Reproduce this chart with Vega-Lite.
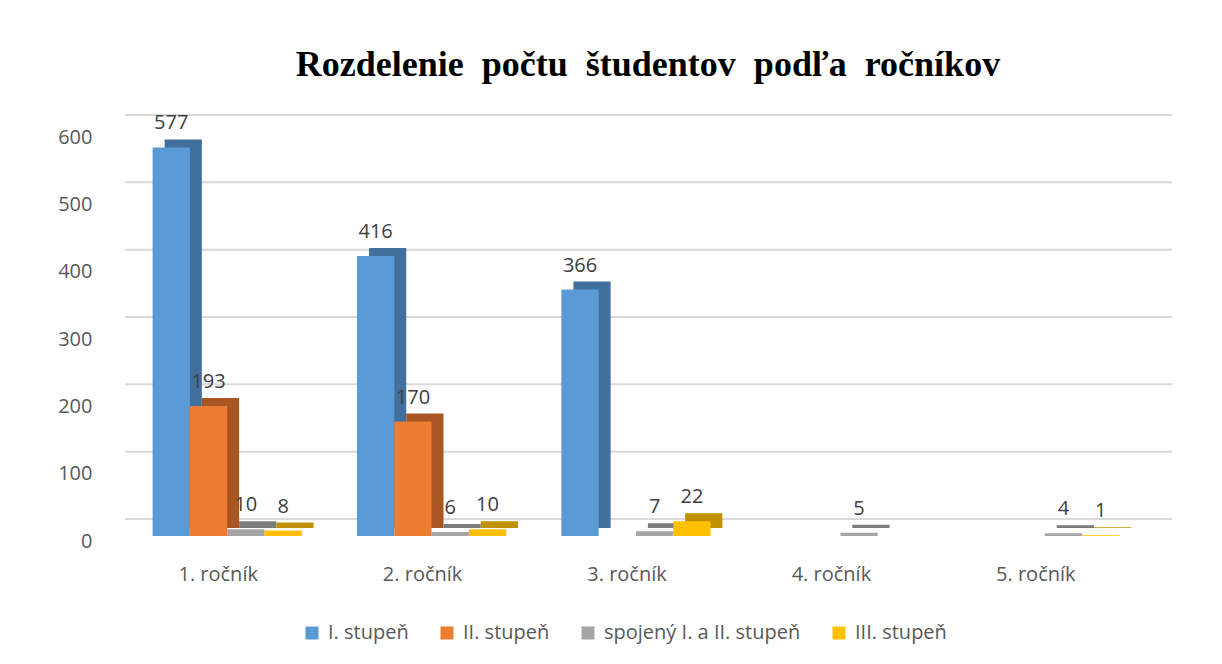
{
  "$schema": "https://vega.github.io/schema/vega-lite/v6.json",
  "autosize": "none",
  "width": 1022,
  "height": 404,
  "padding": {"left": 125, "top": 132, "right": 75, "bottom": 128},
  "background": "white",
  "title": {
    "text": "Rozdelenie\u00a0 počtu\u00a0 študentov\u00a0 podľa\u00a0 ročníkov",
    "font": "Liberation Serif",
    "fontSize": 36,
    "fontWeight": "bold",
    "color": "#000000",
    "anchor": "middle",
    "dx": 12,
    "offset": 29
  },
  "datasets": {
    "bars": [
      {"rocnik": "1. ročník", "stupen": "I. stupeň", "pocet": 577},
      {"rocnik": "1. ročník", "stupen": "II. stupeň", "pocet": 193},
      {"rocnik": "1. ročník", "stupen": "spojený I. a II. stupeň", "pocet": 10},
      {"rocnik": "1. ročník", "stupen": "III. stupeň", "pocet": 8},
      {"rocnik": "2. ročník", "stupen": "I. stupeň", "pocet": 416},
      {"rocnik": "2. ročník", "stupen": "II. stupeň", "pocet": 170},
      {"rocnik": "2. ročník", "stupen": "spojený I. a II. stupeň", "pocet": 6},
      {"rocnik": "2. ročník", "stupen": "III. stupeň", "pocet": 10},
      {"rocnik": "3. ročník", "stupen": "I. stupeň", "pocet": 366},
      {"rocnik": "3. ročník", "stupen": "spojený I. a II. stupeň", "pocet": 7},
      {"rocnik": "3. ročník", "stupen": "III. stupeň", "pocet": 22},
      {"rocnik": "4. ročník", "stupen": "spojený I. a II. stupeň", "pocet": 5},
      {"rocnik": "5. ročník", "stupen": "spojený I. a II. stupeň", "pocet": 4},
      {"rocnik": "5. ročník", "stupen": "III. stupeň", "pocet": 1}
    ],
    "grid": [
      {"v": 0}, {"v": 100}, {"v": 200}, {"v": 300}, {"v": 400}, {"v": 500}, {"v": 600}
    ]
  },
  "config": {
    "view": {"stroke": null},
    "font": "Open Sans"
  },
  "layer": [
    {
      "data": {"name": "grid"},
      "mark": {"type": "rule", "color": "#d9d9d9", "strokeWidth": 2, "xOffset": 25, "yOffset": -17},
      "encoding": {
        "y": {"field": "v", "type": "quantitative", "scale": {"domain": [0, 600]}}
      }
    },
    {
      "data": {"name": "bars"},
      "mark": {"type": "bar", "yOffset": -8},
      "encoding": {
        "x": {"field": "rocnik", "type": "nominal"},
        "xOffset": {
          "field": "stupen", "type": "nominal",
          "sort": ["I. stupeň", "II. stupeň", "spojený I. a II. stupeň", "III. stupeň"],
          "scale": {"range": [12, 161]}
        },
        "y": {"field": "pocet", "type": "quantitative"},
        "color": {
          "field": "stupen", "type": "nominal", "legend": null,
          "scale": {
            "domain": ["I. stupeň", "II. stupeň", "spojený I. a II. stupeň", "III. stupeň"],
            "range": ["#41709c", "#a95623", "#7c7c7c", "#bf9000"]
          }
        }
      }
    },
    {
      "data": {"name": "bars"},
      "layer": [
        {
          "mark": {"type": "bar"},
          "encoding": {
            "color": {
              "field": "stupen", "type": "nominal",
              "scale": {
                "domain": ["I. stupeň", "II. stupeň", "spojený I. a II. stupeň", "III. stupeň"],
                "range": ["#5b9bd5", "#ed7d31", "#a5a5a5", "#ffc000"]
              },
              "legend": {
                "title": null,
                "orient": "none",
                "legendX": 177,
                "legendY": 491,
                "direction": "horizontal",
                "symbolType": "square",
                "symbolSize": 169,
                "symbolStrokeWidth": 0,
                "symbolOffset": 0,
                "labelOffset": 6,
                "labelFontSize": 20,
                "labelColor": "#595959",
                "labelFont": "Open Sans",
                "labelLimit": 400,
                "columnPadding": 28
              }
            }
          }
        },
        {
          "mark": {"type": "text", "baseline": "bottom", "dy": -14, "fontSize": 20, "color": "#404040", "font": "Open Sans"},
          "encoding": {"text": {"field": "pocet", "type": "quantitative"}}
        }
      ],
      "encoding": {
        "x": {
          "field": "rocnik", "type": "nominal",
          "scale": {"paddingInner": 0.27, "paddingOuter": 0.135},
          "axis": {
            "title": null, "labelAngle": 0, "labelAlign": "center", "domain": false, "ticks": false,
            "labelFontSize": 20, "labelColor": "#595959", "labelPadding": 38, "labelOffset": -9
          }
        },
        "xOffset": {
          "field": "stupen", "type": "nominal",
          "sort": ["I. stupeň", "II. stupeň", "spojený I. a II. stupeň", "III. stupeň"]
        },
        "y": {
          "field": "pocet", "type": "quantitative",
          "scale": {"domain": [0, 600]},
          "axis": {
            "title": null, "grid": false, "domain": false, "ticks": false,
            "tickCount": 6, "labelFontSize": 20, "labelColor": "#595959",
            "labelPadding": 33, "labelOffset": 5
          }
        }
      }
    }
  ],
  "resolve": {"scale": {"color": "independent", "xOffset": "independent"}}
}
